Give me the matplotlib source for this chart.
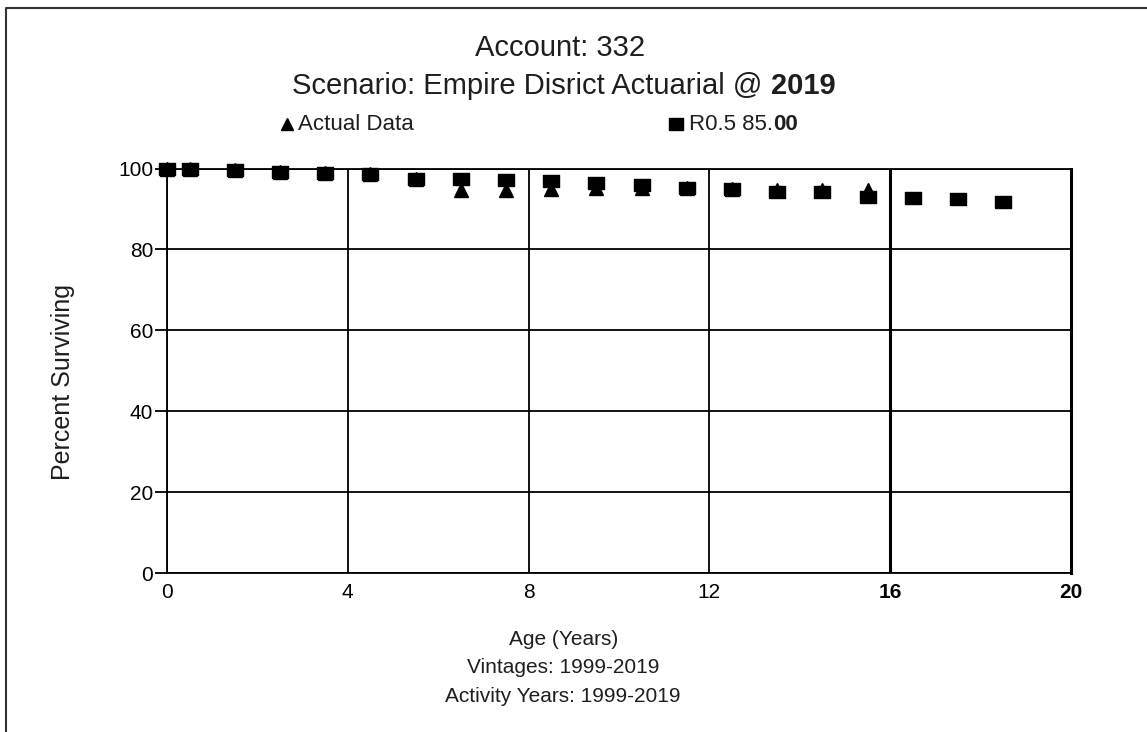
import matplotlib
matplotlib.use("Agg")
from matplotlib import pyplot as plt
from matplotlib.lines import Line2D
import numpy as np

plt.rcParams["font.family"] = ["Liberation Sans", "DejaVu Sans"]
plt.rcParams["text.color"] = "#1e1e1e"

# data
age_actual = [0, 0.5, 1.5, 2.5, 3.5, 4.5, 5.5, 6.5, 7.5, 8.5, 9.5, 10.5, 11.5,
              12.5, 13.5, 14.5, 15.5]
pct_actual = [100, 100, 99.7, 99.2, 99.0, 98.6, 97.3, 94.8, 94.7, 94.9, 95.1,
              95.3, 95.1, 94.9, 94.6, 94.7, 94.7]
age_curve = [0, 0.5, 1.5, 2.5, 3.5, 4.5, 5.5, 6.5, 7.5, 8.5, 9.5, 10.5, 11.5,
             12.5, 13.5, 14.5, 15.5, 16.5, 17.5, 18.5]
pct_curve = [100, 100, 99.6, 99.2, 98.8, 98.6, 97.3, 97.3, 97.2, 96.9, 96.3,
             95.8, 95.1, 94.9, 94.3, 94.1, 93.0, 92.6, 92.4, 91.8]
xticks = [0, 4, 8, 12, 16, 20]
yticks = [0, 20, 40, 60, 80, 100]

# slightly wide rectangle, like the original squares
rect = [(-1.25, -1), (1.25, -1), (1.25, 1), (-1.25, 1), (-1.25, -1)]

fig = plt.figure(figsize=(11.47, 7.32), dpi=100)
ax = fig.add_axes([0.1456, 0.2172, 0.7881, 0.5526])

ax.plot(age_actual, pct_actual, "^", color="black", ms=9.5, zorder=3,
        clip_on=False)
ax.plot(age_curve, pct_curve, marker=rect, ls="none", color="black", ms=11,
        zorder=4, clip_on=False)

ax.set_xlim(0, 20)
ax.set_ylim(0, 100)
ax.set_xticks(xticks)
ax.set_yticks(yticks)
ax.grid(True, color="black", lw=1.3)
for i, gl in enumerate(ax.get_xgridlines()):
    if xticks[i] == 16:
        gl.set_linewidth(2.2)
for sp in ax.spines.values():
    sp.set_linewidth(1.3)
ax.spines["right"].set_linewidth(2.2)
ax.tick_params(axis="y", length=9, width=1.3, pad=1, labelsize=15)
ax.tick_params(axis="x", length=0, pad=7, labelsize=15)
for lab in ax.get_xticklabels():
    if lab.get_text() in ("16", "20"):
        lab.set_fontweight("bold")

fig.text(0.055, 0.478, "Percent Surviving", rotation=90, ha="center",
         va="center", fontsize=18)
fig.text(0.491, 0.126, "Age (Years)", ha="center", va="center", fontsize=15)
fig.text(0.491, 0.0875, "Vintages: 1999-2019", ha="center", va="center",
         fontsize=15)
fig.text(0.491, 0.049, "Activity Years: 1999-2019", ha="center", va="center",
         fontsize=15)

# titles
fig.text(0.488, 0.934, "Account: 332", ha="center", va="center", fontsize=21)
t1 = fig.text(0.249, 0.882, "Scenario: Empire Disrict Actuarial @ ",
              ha="left", va="center", fontsize=21)
t1b = fig.text(0.7, 0.882, "2019", ha="left", va="center", fontsize=21,
               fontweight="bold")

# legend row
fig.add_artist(Line2D([0.2502], [0.830], marker="^", color="black", ms=8,
                      transform=fig.transFigure))
fig.text(0.2595, 0.830, "Actual Data", ha="left", va="center", fontsize=16)
fig.add_artist(Line2D([0.5895], [0.830], marker=rect, color="black", ms=10,
                      transform=fig.transFigure))
t2 = fig.text(0.601, 0.830, "R0.5 85.", ha="left", va="center", fontsize=16)
t2b = fig.text(0.7, 0.830, "00", ha="left", va="center", fontsize=16,
               fontweight="bold")

# put the bold pieces right after the plain ones, centre the scenario line
fig.canvas.draw()
r = fig.canvas.get_renderer()
w1 = t1.get_window_extent(r).width / fig.bbox.width
w1b = t1b.get_window_extent(r).width / fig.bbox.width
x0 = 0.4915 - (w1 + w1b) / 2
t1.set_x(x0)
t1b.set_x(x0 + w1)
t2b.set_x(0.601 + t2.get_window_extent(r).width / fig.bbox.width)

# frame edges of the picture
fig.add_artist(Line2D([0.005, 0.005, 1.0], [0.0, 0.989, 0.989], color="#333333",
                      lw=1.5, transform=fig.transFigure))

fig.savefig("out.png", dpi=100)
